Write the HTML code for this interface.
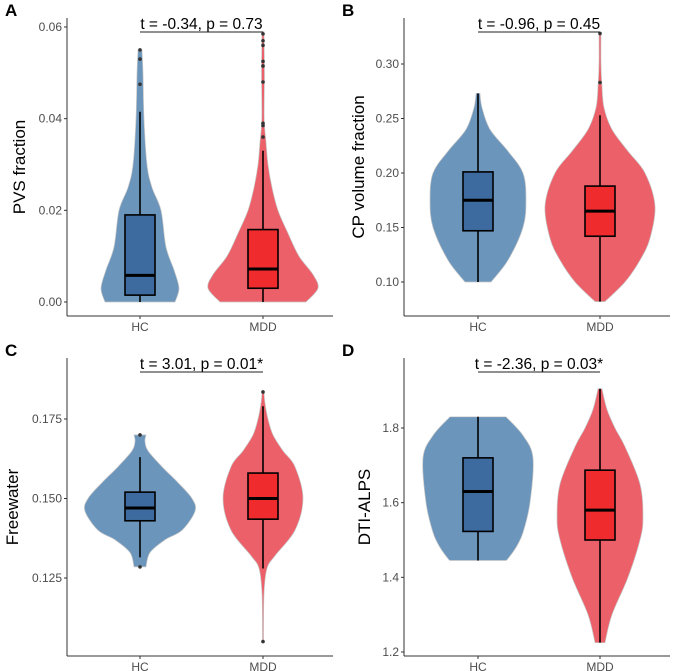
<!DOCTYPE html>
<html><head><meta charset="utf-8">
<style>
html,body{margin:0;padding:0;background:#fff;}
svg{display:block;font-family:"Liberation Sans",sans-serif;}
</style></head>
<body>
<svg id="fig" width="675" height="671" viewBox="0 0 675 671"></svg>
<script>
// ---- data ----
const groups = ["HC","MDD"];
// Panel A
const aHCvy=[0,0.003,0.007,0.012,0.02,0.025,0.03,0.04,0.05,0.055];
const aHCvw=[35,39,34,26,21,12,7,4,3,2];
const aMDDvy=[0,0.003,0.006,0.01,0.015,0.02,0.025,0.03,0.035,0.04,0.05,0.059];
const aMDDvw=[43,55,50,36,25,15,9,5,3,1.2,1.5,1];
const aHCbox=[0,0.0015,0.0058,0.019,0.0415];
const aMDDbox=[0,0.003,0.0072,0.0158,0.033];
const aHCout=[0.0475,0.053,0.055];
const aMDDout=[0.036,0.0385,0.039,0.048,0.0515,0.0525,0.056,0.057,0.0585];
const aTicks=[0,0.02,0.04,0.06];
const aTickLabels=["0.00","0.02","0.04","0.06"];
// Panel B
const bHCvy=[0.10,0.12,0.15,0.175,0.20,0.22,0.24,0.26,0.273];
const bHCvw=[13,30,45,48,45,30,12,4,2];
const bMDDvy=[0.082,0.10,0.12,0.14,0.17,0.20,0.22,0.24,0.26,0.28,0.30,0.328];
const bMDDvw=[5,25,40,50,55,45,28,12,4,2,1,1];
const bHCbox=[0.10,0.147,0.175,0.201,0.273];
const bMDDbox=[0.082,0.142,0.165,0.188,0.253];
const bHCout=[];
const bMDDout=[0.283,0.328];
const bTicks=[0.10,0.15,0.20,0.25,0.30];
const bTickLabels=["0.10","0.15","0.20","0.25","0.30"];
// Panel C
const cHCvy=[0.1285,0.133,0.137,0.14,0.146,0.15,0.155,0.16,0.165,0.168,0.170];
const cHCvw=[6,10,25,42,55,52,38,22,8,5,6];
const cMDDvy=[0.105,0.12,0.128,0.132,0.14,0.15,0.16,0.165,0.17,0.175,0.18,0.1835];
const cMDDvw=[0.5,1,4,12,32,40,32,20,10,5,2,1];
const cHCbox=[0.1315,0.143,0.147,0.152,0.163];
const cMDDbox=[0.128,0.1435,0.150,0.158,0.179];
const cHCout=[0.1285,0.170];
const cMDDout=[0.105,0.1835];
const cTicks=[0.125,0.150,0.175];
const cTickLabels=["0.125","0.150","0.175"];
// Panel D
const dHCvy=[1.445,1.45,1.48,1.52,1.6,1.72,1.78,1.83];
const dHCvw=[28,30,38,45,52,55,45,28];
const dMDDvy=[1.225,1.3,1.4,1.5,1.56,1.65,1.75,1.8,1.85,1.905];
const dMDDvw=[5,12,28,40,43,40,25,15,7,2];
const dHCbox=[1.445,1.523,1.63,1.72,1.83];
const dMDDbox=[1.225,1.50,1.58,1.687,1.905];
const dHCout=[];
const dMDDout=[];
const dTicks=[1.2,1.4,1.6,1.8];
const dTickLabels=["1.2","1.4","1.6","1.8"];

const NS="http://www.w3.org/2000/svg";
const svg=document.getElementById('fig');
function mk(tag,attrs,parent){const e=document.createElementNS(NS,tag);for(const k in attrs)e.setAttribute(k,attrs[k]);(parent||svg).appendChild(e);return e;}

function smoothPath(pts){
  let d="M"+pts[0][0]+","+pts[0][1];
  for(let i=0;i<pts.length-1;i++){
    const p0=pts[Math.max(0,i-1)],p1=pts[i],p2=pts[i+1],p3=pts[Math.min(pts.length-1,i+2)];
    const c1=[p1[0]+(p2[0]-p0[0])/6,p1[1]+(p2[1]-p0[1])/6];
    const c2=[p2[0]-(p3[0]-p1[0])/6,p2[1]-(p3[1]-p1[1])/6];
    d+=" C"+c1[0]+","+c1[1]+" "+c2[0]+","+c2[1]+" "+p2[0]+","+p2[1];
  }
  return d;
}

function panel(cfg){
  const g=mk('g',{});
  
  
  const y=v=>cfg.y0px+(v-cfg.v0)/(cfg.v1-cfg.v0)*(cfg.y1px-cfg.y0px);
  const xs=[cfg.xHC,cfg.xMDD];
  const lt=mk('text',{x:cfg.axX-62,y:cfg.top-2,'font-size':17,'font-weight':'bold',fill:'#000'},g);
  lt.textContent=cfg.letter;
  
  
  const vCols=["#6b95bb","#eb6069"],bCols=["#3d6a9f","#ef2b2e"];
  const sets=[[cfg.hcvy,cfg.hcvw,cfg.hcbox,cfg.hcout],[cfg.mvy,cfg.mvw,cfg.mbox,cfg.mout]];
  sets.forEach((s,i)=>{
    const cx=xs[i];
    const right=s[0].map((v,j)=>[cx+s[1][j],y(v)]);
    const left=s[0].map((v,j)=>[cx-s[1][j],y(v)]).reverse();
    const lp=smoothPath(left);
    let d=smoothPath(right)+" L"+left[0][0]+","+left[0][1]+lp.slice(lp.indexOf(" "))+" Z";
    const vp=mk('path',{d:d,fill:vCols[i],stroke:'#c8c8c8','stroke-width':0.7},g);
    
    
    const b=s[2];
    const wl=mk('line',{x1:cx,x2:cx,y1:y(b[0]),y2:y(b[4]),stroke:'#000','stroke-width':1.6},g);
    
    
    const br=mk('rect',{x:cx-15,y:y(b[3]),width:30,height:y(b[1])-y(b[3]),fill:bCols[i],stroke:'#000','stroke-width':1.6},g);
    
    
    const md=mk('line',{x1:cx-15,x2:cx+15,y1:y(b[2]),y2:y(b[2]),stroke:'#000','stroke-width':3},g);
    
    
    s[3].forEach(o=>{
      const c=mk('circle',{cx:cx,cy:y(o),r:1.8,fill:'#333'},g);
      
      
    });
  });
  const ya=mk('line',{x1:cfg.axX,x2:cfg.axX,y1:cfg.top,y2:cfg.bottom,stroke:'#333','stroke-width':1},g);
  
  
  const xa=mk('line',{x1:cfg.axX,x2:cfg.axX+266,y1:cfg.bottom,y2:cfg.bottom,stroke:'#333','stroke-width':1},g);
  
  
  cfg.ticks.forEach((t,i)=>{
    mk('line',{x1:cfg.axX-3,x2:cfg.axX,y1:y(t),y2:y(t),stroke:'#333'},g);
    const tl=mk('text',{x:cfg.axX-5,y:y(t)+4,'font-size':12,fill:'#4d4d4d','text-anchor':'end'},g);
    tl.textContent=cfg.tickLabels[i];
    
    
  });
  groups.forEach((gname,i)=>{
    mk('line',{x1:xs[i],x2:xs[i],y1:cfg.bottom,y2:cfg.bottom+3,stroke:'#333'},g);
    const xl=mk('text',{x:xs[i],y:cfg.bottom+15,'font-size':12,fill:'#4d4d4d','text-anchor':'middle'},g);
    xl.textContent=gname;
    
    
  });
  const yt=mk('text',{x:0,y:0,'font-size':17,fill:'#000','text-anchor':'middle',transform:'translate('+(cfg.axX-cfg.titleOff)+','+((cfg.top+cfg.bottom)/2)+') rotate(-90)'},g);
  yt.textContent=cfg.ytitle;
  
  
  const an=mk('text',{x:(cfg.xHC+cfg.xMDD)/2,y:cfg.top+11,'font-size':15.5,fill:'#000','text-anchor':'middle'},g);
  an.textContent=cfg.annot;
  
  
  const al=mk('line',{x1:cfg.xHC,x2:cfg.xMDD,y1:cfg.top+14,y2:cfg.top+14,stroke:'#222','stroke-width':1},g);
  
  
}

panel({letter:"A",axX:67,top:18,bottom:316,xHC:140,xMDD:263,v0:0,v1:0.06,y0px:302,y1px:27,titleOff:42,ytitle:"PVS fraction",annot:"t = -0.34, p = 0.73",
  hcvy:aHCvy,hcvw:aHCvw,mvy:aMDDvy,mvw:aMDDvw,hcbox:aHCbox,mbox:aMDDbox,hcout:aHCout,mout:aMDDout,ticks:aTicks,tickLabels:aTickLabels});
panel({letter:"B",axX:404,top:18,bottom:316,xHC:478,xMDD:600,v0:0.10,v1:0.30,y0px:282,y1px:64,titleOff:40,ytitle:"CP volume fraction",annot:"t = -0.96, p = 0.45",
  hcvy:bHCvy,hcvw:bHCvw,mvy:bMDDvy,mvw:bMDDvw,hcbox:bHCbox,mbox:bMDDbox,hcout:bHCout,mout:bMDDout,ticks:bTicks,tickLabels:bTickLabels});
panel({letter:"C",axX:67,top:358,bottom:656,xHC:140,xMDD:263,v0:0.125,v1:0.175,y0px:578,y1px:419,titleOff:49,ytitle:"Freewater",annot:"t = 3.01, p = 0.01*",
  hcvy:cHCvy,hcvw:cHCvw,mvy:cMDDvy,mvw:cMDDvw,hcbox:cHCbox,mbox:cMDDbox,hcout:cHCout,mout:cMDDout,ticks:cTicks,tickLabels:cTickLabels});
panel({letter:"D",axX:404,top:358,bottom:656,xHC:478,xMDD:600,v0:1.2,v1:1.8,y0px:652,y1px:428,titleOff:34,ytitle:"DTI-ALPS",annot:"t = -2.36, p = 0.03*",
  hcvy:dHCvy,hcvw:dHCvw,mvy:dMDDvy,mvw:dMDDvw,hcbox:dHCbox,mbox:dMDDbox,hcout:dHCout,mout:dMDDout,ticks:dTicks,tickLabels:dTickLabels});
</script>
</body></html>
